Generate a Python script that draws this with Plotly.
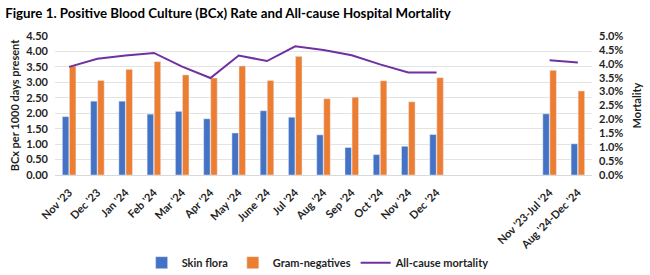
import plotly.graph_objects as go

categories = ["Nov '23", "Dec '23", "Jan '24", "Feb '24", "Mar '24", "Apr '24", "May '24",
              "June '24", "Jul '24", "Aug '24", "Sep '24", "Oct '24", "Nov '24", "Dec '24",
              "Nov '23-Jul '24", "Aug '24-Dec '24"]
skin_flora = [1.89, 2.39, 2.39, 1.97, 2.06, 1.82, 1.36, 2.08, 1.87, 1.30, 0.89, 0.66, 0.93, 1.31, 1.98, 1.01]
gram_neg = [3.53, 3.06, 3.42, 3.67, 3.24, 3.14, 3.53, 3.06, 3.84, 2.47, 2.52, 3.05, 2.37, 3.15, 3.39, 2.72]
mortality = [3.89, 4.18, 4.30, 4.39, 3.90, 3.49, 4.30, 4.10, 4.63, 4.50, 4.31, 3.98, 3.69, 3.69, 4.13, 4.05]
gap_labels = [" ", "  ", "   "]

n_monthly = 14
axis_order = categories[:n_monthly] + gap_labels + categories[n_monthly:]
line_x = axis_order
line_y = [m / 100 for m in mortality[:n_monthly]] + [None] * len(gap_labels) + \
         [m / 100 for m in mortality[n_monthly:]]

FONT = "Lato"
TXT = "#1f1f1f"

fig = go.Figure()
fig.add_trace(go.Bar(x=categories, y=skin_flora, name="Skin flora", marker_color="#4472C4"))
fig.add_trace(go.Bar(x=categories, y=gram_neg, name="Gram-negatives", marker_color="#ED7D31"))
fig.add_trace(go.Scatter(x=line_x, y=line_y, name="All-cause mortality", mode="lines",
                         line=dict(color="#7030A0", width=2), yaxis="y2", connectgaps=False))

fig.update_layout(
    width=650, height=275,
    margin=dict(l=55, r=58, t=36, b=100, autoexpand=False),
    paper_bgcolor="white", plot_bgcolor="white",
    font=dict(family=FONT, color=TXT, size=11),
    title=dict(text="<b>Figure 1. Positive Blood Culture (BCx) Rate and All-cause Hospital Mortality</b>",
               x=0.008, xanchor="left", y=0.953, yanchor="middle",
               font=dict(family=FONT, size=13.3, color="#000000")),
    barmode="group", bargap=0.5, bargroupgap=0.08,
    showlegend=True,
    legend=dict(orientation="h", x=0.49, xanchor="center", yref="container", y=0.045,
                yanchor="middle",
                font=dict(family=FONT, size=11, color=TXT, weight="bold"),
                itemwidth=30, tracegroupgap=0),
    xaxis=dict(type="category", categoryorder="array", categoryarray=axis_order,
               tickangle=-45, ticklabelstandoff=6,
               tickfont=dict(family=FONT, size=11, color=TXT, weight="bold"),
               showline=True, linecolor="#d9d9d9", linewidth=1, ticks="", showgrid=False),
    yaxis=dict(range=[0, 4.5], dtick=0.5, tickformat=".2f", ticklabelstandoff=6,
               tickfont=dict(family=FONT, size=11, color=TXT, weight="bold"),
               gridcolor="#e3e3e3", gridwidth=1, zeroline=False,
               title=dict(text="<b>BCx per 1000 days present</b>", standoff=4,
                          font=dict(family=FONT, size=11, color=TXT))),
    yaxis2=dict(range=[0, 0.05], dtick=0.005, tickformat=".1%", overlaying="y", side="right",
                showgrid=False, zeroline=False, ticklabelstandoff=6,
                tickfont=dict(family=FONT, size=11, color=TXT, weight="bold"),
                title=dict(text="<b>Mortality</b>", standoff=10,
                           font=dict(family=FONT, size=11, color=TXT))),
)

fig.write_html("out.html")
